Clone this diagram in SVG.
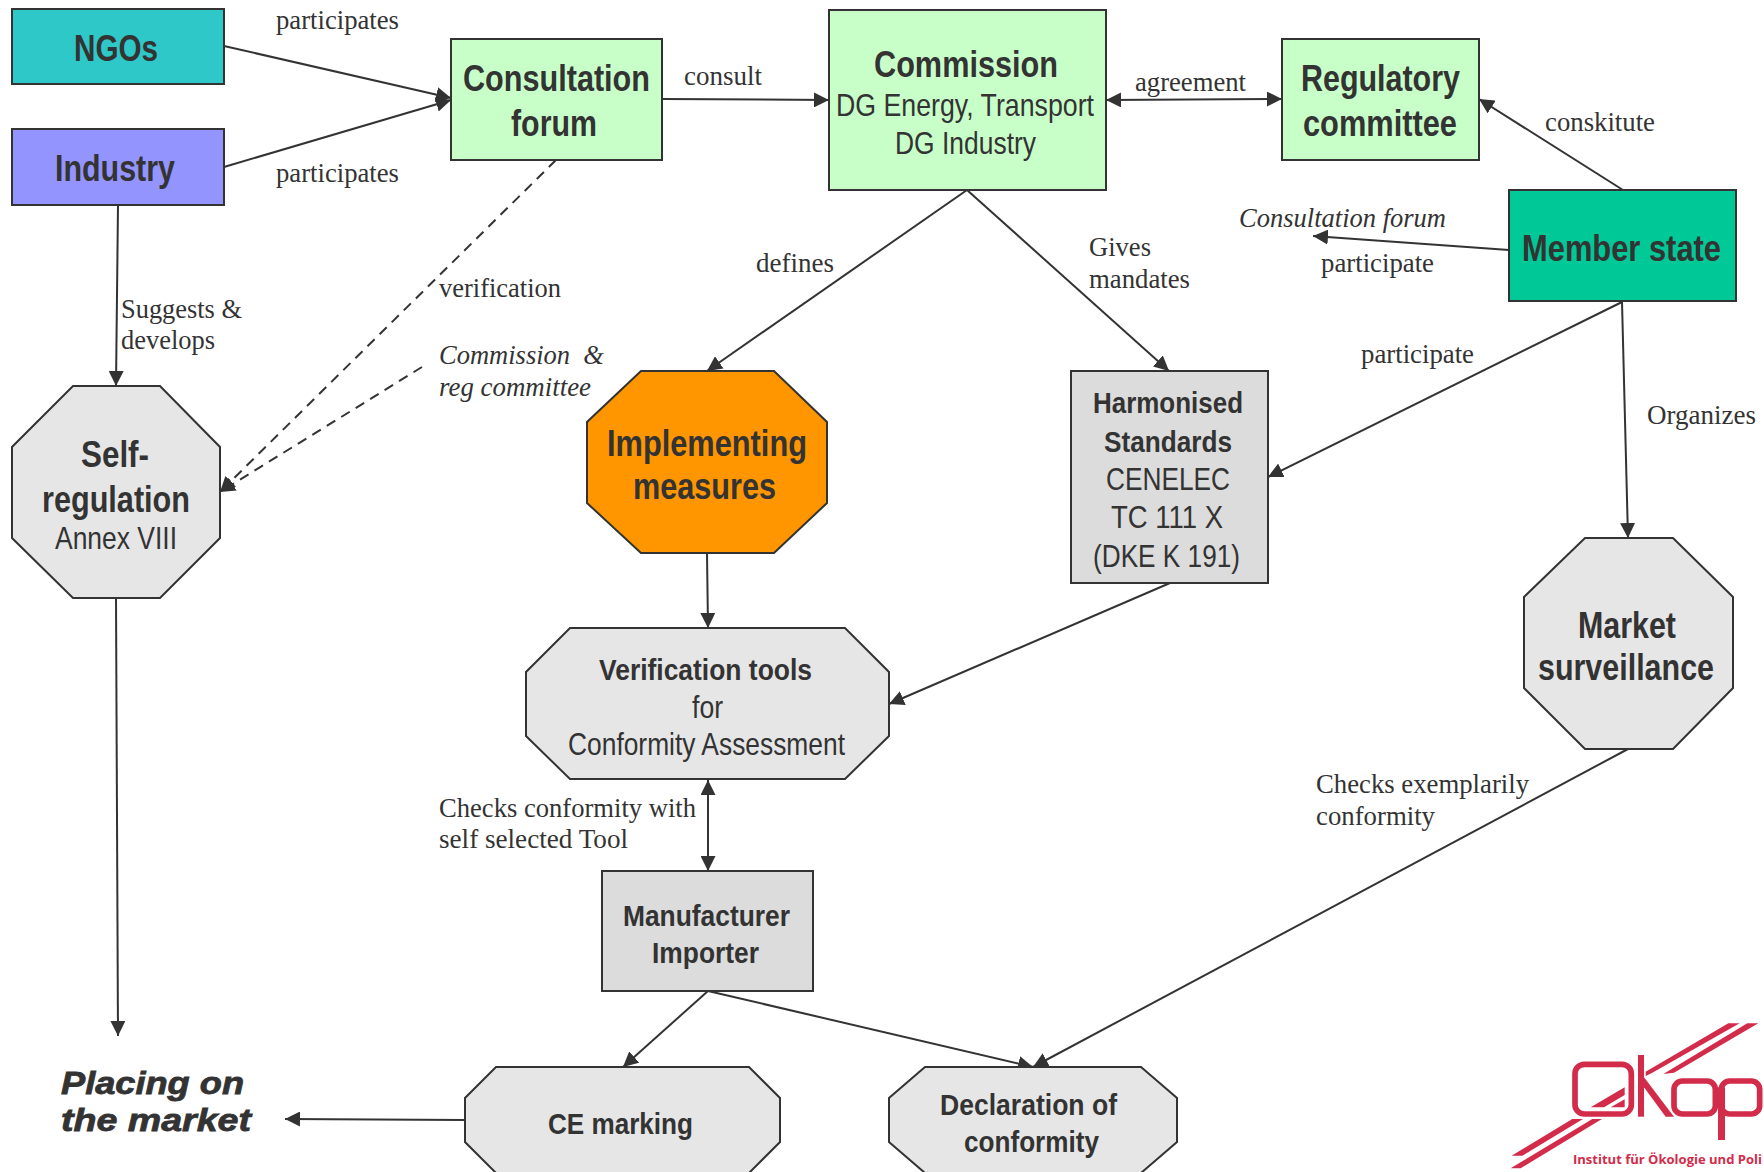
<svg xmlns="http://www.w3.org/2000/svg" width="1764" height="1172" viewBox="0 0 1764 1172">
<style>
text{fill:#333;font-family:"Liberation Sans",Arial,sans-serif;}
.b{font-weight:bold;font-size:36px}
.m{font-weight:bold;font-size:30px}
.r{font-size:30.5px}
.l{font-family:"Liberation Serif","Times New Roman",serif;font-size:27px}
.i{font-style:italic}
.p{font-size:32px;stroke:#333;stroke-width:.8}
.box{stroke:#333;stroke-width:2}
.c line{stroke:#333;stroke-width:2;fill:none}
.d{stroke-dasharray:10 7}
</style>
<defs>
<marker id="a" markerUnits="userSpaceOnUse" markerWidth="16" markerHeight="15" refX="15" refY="7.5" orient="auto-start-reverse"><path d="M0 0L15 7.5L0 15z" fill="#333"/></marker>
</defs>
<rect width="1764" height="1172" fill="#fff"/>
<g id="connectors" class="c">
<line x1="224" y1="46" x2="451" y2="98" marker-end="url(#a)"/>
<line x1="224" y1="167" x2="451" y2="100" marker-end="url(#a)"/>
<line x1="662" y1="99" x2="829" y2="100" marker-end="url(#a)"/>
<line x1="1106" y1="100" x2="1282" y2="99" marker-start="url(#a)" marker-end="url(#a)"/>
<line x1="1623" y1="190" x2="1479" y2="99" marker-end="url(#a)"/>
<line x1="1509" y1="250" x2="1313" y2="236" marker-end="url(#a)"/>
<line x1="967" y1="190" x2="707" y2="371" marker-end="url(#a)"/>
<line x1="967" y1="190" x2="1169" y2="371" marker-end="url(#a)"/>
<line x1="1622" y1="302" x2="1268" y2="477" marker-end="url(#a)"/>
<line x1="1622" y1="302" x2="1628" y2="538" marker-end="url(#a)"/>
<line x1="118" y1="205" x2="116" y2="386" marker-end="url(#a)"/>
<line x1="116" y1="598" x2="118" y2="1036" marker-end="url(#a)"/>
<line class="d" x1="556" y1="160" x2="220" y2="492" marker-end="url(#a)"/>
<line class="d" x1="422" y1="367" x2="220" y2="492" marker-end="url(#a)"/>
<line x1="707" y1="553" x2="708" y2="628" marker-end="url(#a)"/>
<line x1="1170" y1="583" x2="889" y2="704" marker-end="url(#a)"/>
<line x1="708" y1="780" x2="708" y2="871" marker-start="url(#a)" marker-end="url(#a)"/>
<line x1="708" y1="991" x2="623" y2="1067" marker-end="url(#a)"/>
<line x1="708" y1="991" x2="1033" y2="1067" marker-end="url(#a)"/>
<line x1="1628" y1="749" x2="1033" y2="1067" marker-end="url(#a)"/>
<line x1="465" y1="1120" x2="285" y2="1119" marker-end="url(#a)"/>
</g>
<g id="ngos"><rect class="box" x="12" y="9" width="212" height="75" fill="#2ec8c8"/><text class="b" x="74" y="61" textLength="84" lengthAdjust="spacingAndGlyphs">NGOs</text></g>
<g id="industry"><rect class="box" x="12" y="129" width="212" height="76" fill="#9494ff"/><text class="b" x="55" y="181" textLength="120" lengthAdjust="spacingAndGlyphs">Industry</text></g>
<g id="consultation"><rect class="box" x="451" y="39" width="211" height="121" fill="#c8ffc8"/><text class="b" x="463" y="91" textLength="187" lengthAdjust="spacingAndGlyphs">Consultation</text><text class="b" x="511" y="136" textLength="86" lengthAdjust="spacingAndGlyphs">forum</text></g>
<g id="commission"><rect class="box" x="829" y="10" width="277" height="180" fill="#c8ffc8"/><text class="b" x="874" y="77" textLength="184" lengthAdjust="spacingAndGlyphs">Commission</text><text class="r" x="836" y="116" textLength="258" lengthAdjust="spacingAndGlyphs">DG Energy, Transport</text><text class="r" x="895" y="154" textLength="141" lengthAdjust="spacingAndGlyphs">DG Industry</text></g>
<g id="regulatory"><rect class="box" x="1282" y="39" width="197" height="121" fill="#c8ffc8"/><text class="b" x="1301" y="91" textLength="159" lengthAdjust="spacingAndGlyphs">Regulatory</text><text class="b" x="1303" y="136" textLength="154" lengthAdjust="spacingAndGlyphs">committee</text></g>
<g id="member"><rect class="box" x="1509" y="190" width="227" height="111" fill="#00c896"/><text class="b" x="1522" y="261" textLength="199" lengthAdjust="spacingAndGlyphs">Member state</text></g>
<g id="selfreg"><polygon class="box" points="73,386 160,386 220,447 220,538 160,598 73,598 12,538 12,447" fill="#e6e6e6"/><text class="b" x="81" y="467" textLength="68" lengthAdjust="spacingAndGlyphs">Self-</text><text class="b" x="42" y="512" textLength="148" lengthAdjust="spacingAndGlyphs">regulation</text><text class="r" x="55" y="549" textLength="122" lengthAdjust="spacingAndGlyphs">Annex VIII</text></g>
<g id="implementing"><polygon class="box" points="641,371 774,371 827,422 827,503 774,553 641,553 587,503 587,422" fill="#ff9600"/><text class="b" x="607" y="456" textLength="200" lengthAdjust="spacingAndGlyphs">Implementing</text><text class="b" x="633" y="499" textLength="143" lengthAdjust="spacingAndGlyphs">measures</text></g>
<g id="harmonised"><rect class="box" x="1071" y="371" width="197" height="212" fill="#dcdcdc"/><text class="m" x="1093" y="413" textLength="150" lengthAdjust="spacingAndGlyphs">Harmonised</text><text class="m" x="1104" y="452" textLength="128" lengthAdjust="spacingAndGlyphs">Standards</text><text class="r" x="1106" y="490" textLength="124" lengthAdjust="spacingAndGlyphs">CENELEC</text><text class="r" x="1111" y="528" textLength="112" lengthAdjust="spacingAndGlyphs">TC 111 X</text><text class="r" x="1093" y="567" textLength="147" lengthAdjust="spacingAndGlyphs">(DKE K 191)</text></g>
<g id="verification"><polygon class="box" points="570,628 845,628 889,672 889,736 845,779 570,779 526,736 526,672" fill="#e6e6e6"/><text class="m" x="599" y="680" textLength="213" lengthAdjust="spacingAndGlyphs">Verification tools</text><text class="r" x="692" y="718" textLength="31" lengthAdjust="spacingAndGlyphs">for</text><text class="r" x="568" y="755" textLength="277" lengthAdjust="spacingAndGlyphs">Conformity Assessment</text></g>
<g id="manufacturer"><rect class="box" x="602" y="871" width="211" height="120" fill="#dcdcdc"/><text class="m" x="623" y="926" textLength="167" lengthAdjust="spacingAndGlyphs">Manufacturer</text><text class="m" x="652" y="963" textLength="107" lengthAdjust="spacingAndGlyphs">Importer</text></g>
<g id="market"><polygon class="box" points="1585,538 1673,538 1733,597 1733,688 1673,749 1585,749 1524,688 1524,597" fill="#e6e6e6"/><text class="b" x="1578" y="638" textLength="98" lengthAdjust="spacingAndGlyphs">Market</text><text class="b" x="1538" y="680" textLength="176" lengthAdjust="spacingAndGlyphs">surveillance</text></g>
<g id="ce"><polygon class="box" points="496,1067 749,1067 780,1098 780,1142 749,1173 496,1173 465,1142 465,1098" fill="#e6e6e6"/><text class="m" x="548" y="1134" textLength="145" lengthAdjust="spacingAndGlyphs">CE marking</text></g>
<g id="declaration"><polygon class="box" points="925,1067 1141,1067 1177,1098 1177,1142 1141,1173 925,1173 889,1142 889,1098" fill="#e6e6e6"/><text class="m" x="940" y="1115" textLength="177" lengthAdjust="spacingAndGlyphs">Declaration of</text><text class="m" x="964" y="1152" textLength="135" lengthAdjust="spacingAndGlyphs">conformity</text></g>
<g id="placing"><text class="b i p" x="61" y="1094" textLength="183" lengthAdjust="spacingAndGlyphs">Placing on</text><text class="b i p" x="61" y="1131" textLength="190" lengthAdjust="spacingAndGlyphs">the market</text></g>
<g id="labels">
<text class="l" x="276" y="29" textLength="123" lengthAdjust="spacingAndGlyphs">participates</text>
<text class="l" x="276" y="182" textLength="123" lengthAdjust="spacingAndGlyphs">participates</text>
<text class="l" x="121" y="318" textLength="121" lengthAdjust="spacingAndGlyphs">Suggests &amp;</text>
<text class="l" x="121" y="349" textLength="94" lengthAdjust="spacingAndGlyphs">develops</text>
<text class="l" x="439" y="297" textLength="122" lengthAdjust="spacingAndGlyphs">verification</text>
<text class="l i" x="439" y="364" textLength="165" lengthAdjust="spacingAndGlyphs" xml:space="preserve">Commission  &amp;</text>
<text class="l i" x="439" y="396" textLength="152" lengthAdjust="spacingAndGlyphs">reg committee</text>
<text class="l" x="684" y="85" textLength="78" lengthAdjust="spacingAndGlyphs">consult</text>
<text class="l" x="1135" y="91" textLength="111" lengthAdjust="spacingAndGlyphs">agreement</text>
<text class="l" x="1545" y="131" textLength="110" lengthAdjust="spacingAndGlyphs">conskitute</text>
<text class="l i" x="1239" y="227" textLength="207" lengthAdjust="spacingAndGlyphs">Consultation forum</text>
<text class="l" x="1321" y="272" textLength="113" lengthAdjust="spacingAndGlyphs">participate</text>
<text class="l" x="1089" y="256" textLength="62" lengthAdjust="spacingAndGlyphs">Gives</text>
<text class="l" x="1089" y="288" textLength="101" lengthAdjust="spacingAndGlyphs">mandates</text>
<text class="l" x="756" y="272" textLength="78" lengthAdjust="spacingAndGlyphs">defines</text>
<text class="l" x="1361" y="363" textLength="113" lengthAdjust="spacingAndGlyphs">participate</text>
<text class="l" x="1647" y="424" textLength="109" lengthAdjust="spacingAndGlyphs">Organizes</text>
<text class="l" x="1316" y="793" textLength="213" lengthAdjust="spacingAndGlyphs">Checks exemplarily</text>
<text class="l" x="1316" y="825" textLength="119" lengthAdjust="spacingAndGlyphs">conformity</text>
<text class="l" x="439" y="817" textLength="257" lengthAdjust="spacingAndGlyphs">Checks conformity with</text>
<text class="l" x="439" y="848" textLength="189" lengthAdjust="spacingAndGlyphs">self selected Tool</text>
</g>
<g id="logo">
<g transform="translate(1464,1000) scale(.33333)" fill="#d22c4a">
<polygon points="793,70 827,70 565,218 545,228 545,215"/>
<polygon points="850,70 883,70 630,218 598,222"/>
<polygon points="380,322 482,262 482,285 420,322"/>
<polygon points="440,322 482,298 482,322"/>
<polygon points="325,357 357,357 175,467 143,467"/>
<polygon points="385,357 414,357 170,505 140,505"/>
<rect x="333" y="193" width="169" height="149" rx="28" fill="none" stroke="#d22c4a" stroke-width="17"/>
<rect x="522" y="165" width="18" height="185"/>
<polygon points="540,232 630,350 605,350 540,262"/>
<rect x="630" y="243" width="124" height="99" rx="25" fill="none" stroke="#d22c4a" stroke-width="17"/>
<rect x="772" y="243" width="115" height="99" rx="25" fill="none" stroke="#d22c4a" stroke-width="17"/>
<rect x="762" y="262" width="21" height="158"/>
</g>
<text x="1573" y="1164" style="fill:#d22c4a;font-family:'Open Sans',sans-serif;font-weight:bold;font-size:13px" textLength="189" lengthAdjust="spacingAndGlyphs">Institut für Ökologie und Poli</text>
</g>
</svg>
